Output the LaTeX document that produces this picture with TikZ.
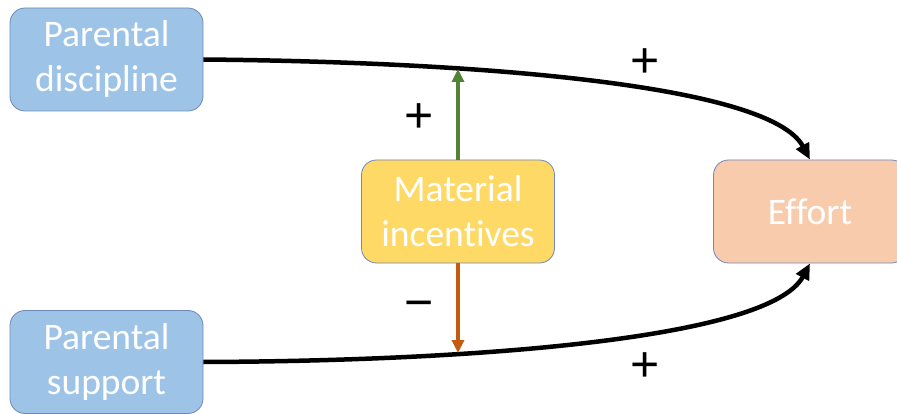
\documentclass[tikz,border=0pt]{standalone}
\usepackage{fontspec}
\setmainfont{Carlito}[Ligatures=NoCommon]
\newfontfamily\signfont{Liberation Sans}
\usepackage{xcolor}
\usetikzlibrary{arrows.meta,positioning}
\definecolor{boxblue}{HTML}{9DC3E6}
\definecolor{boxyellow}{HTML}{FFD966}
\definecolor{boxpeach}{HTML}{F8CBAD}
\definecolor{boxedge}{HTML}{7088B8}
\definecolor{posgreen}{HTML}{548235}
\definecolor{negorange}{HTML}{C55A11}

\begin{document}
\begin{tikzpicture}[x=1pt, y=-1pt,
  box/.style={rectangle, rounded corners=15pt, draw=boxedge, line width=0.8pt,
    minimum width=193pt, minimum height=103pt, align=center, text=white,
    font=\fontsize{37.5}{45}\selectfont},
  link/.style={line width=4.5pt, -{Triangle[length=16pt, width=14pt]}},
  sign/.style={font=\signfont\fontsize{50}{50}\selectfont, text=black, inner sep=0pt}
]
\useasboundingbox (0,0) rectangle (897,414);
\node[box, fill=boxblue] (disc) at (106.5,59.5) {Parental\\discipline};
\node[box, fill=boxblue] (supp) at (106.5,362) {Parental\\support};
\node[box, fill=boxyellow] (incent) at (458,211.5) {Material\\incentives};
\node[box, fill=boxpeach] (effort) at (810,211.5) {Effort};

% direct effects
\draw[link] (disc.east) .. controls (480,62) and (770,85) .. (effort.north);
\draw[link] (supp.east) .. controls (480,361) and (770,338) .. (effort.south);

% moderation arrows
\coordinate (uptip) at (458,69);
\coordinate (downtip) at (458,353);
\draw[line width=3.5pt, posgreen, -{Triangle[length=13pt, width=12pt]}]
  (incent.north) -- (uptip);
\draw[line width=3.5pt, negorange, -{Triangle[length=13pt, width=12pt]}]
  (incent.south) -- (downtip);

\node[sign] (plustop) at (645.5,63) {+};
\node[sign] (plusbot) at (645.5,367) {+};
\node[sign] (plusmid) at (419,118.5) {+};
\node[sign] (minusmid) at (419,310) {−};
\end{tikzpicture}
\end{document}
